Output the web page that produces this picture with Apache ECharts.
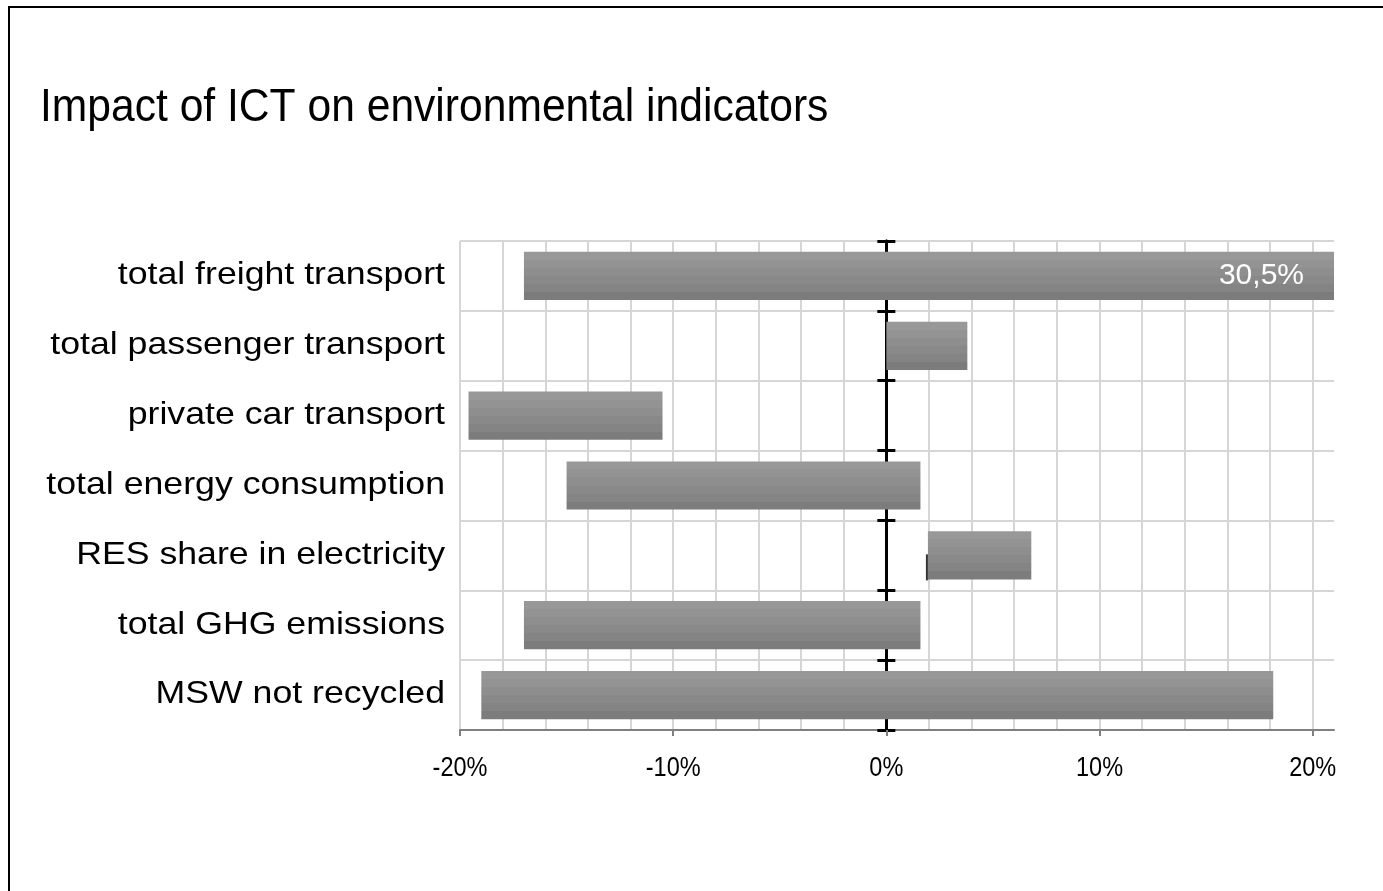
<!DOCTYPE html>
<html>
<head>
<meta charset="utf-8">
<script src="https://cdn.jsdelivr.net/npm/echarts@6/dist/echarts.min.js"></script>
<style>
  html, body { margin: 0; padding: 0; background: #fff; }
  #chart { width: 1383px; height: 891px; }
</style>
</head>
<body>
<div id="chart"></div>
<script>
// Indicator names, top to bottom
const categories = [
  'total freight transport',
  'total passenger transport',
  'private car transport',
  'total energy consumption',
  'RES share in electricity',
  'total GHG emissions',
  'MSW not recycled'
];
// Range of the estimated impact (percent): low end and high end of each bar
const lowValues  = [-17.0, 0.0, -19.6, -15.0, 1.95, -17.0, -19.0];
const highValues = [30.5, 3.8, -10.5, 1.6, 6.8, 1.6, 18.15];
// Labelled ticks on the percent axis
const xTickValues = [-20, -10, 0, 10, 20];
const axisMin = -20;
const axisMax = 21;

const fontStack = "'Liberation Sans', Arial, sans-serif";

// Stepped grey shading, light at the top of each bar to darker at the bottom
const bandColors = ['#989898', '#939393', '#8e8e8e', '#898989', '#848484', '#7c7c7c'];
const bandStops = [];
bandColors.forEach((c, i) => {
  bandStops.push({ offset: i / bandColors.length, color: c });
  bandStops.push({ offset: (i + 1) / bandColors.length, color: c });
});

const rangeData = categories.map((c, i) => [i, lowValues[i], highValues[i]]);
const categoryLabelData = categories.map((c, i) => [axisMin, i]);
const tickLabelData = xTickValues.map(v => [v, 0]);

function formatPct(v) {
  return v.toFixed(1).replace('.', ',') + '%';
}

function renderRange(params, api) {
  const cat = api.value(0);
  const lo = api.value(1);
  const hi = api.value(2);
  const start = api.coord([lo, cat]);
  const end = api.coord([hi, cat]);
  const h = api.size([0, 1])[1] * 0.69;
  const cs = params.coordSys;
  const rect = echarts.graphic.clipRectByRect(
    { x: start[0], y: start[1] - h / 2, width: end[0] - start[0], height: h },
    { x: cs.x, y: cs.y, width: cs.width, height: cs.height }
  );
  if (!rect) return;
  const children = [{
    type: 'rect',
    shape: rect,
    style: { fill: new echarts.graphic.LinearGradient(0, 0, 0, 1, bandStops) }
  }];
  // Values running past the axis end are written inside the clipped bar
  if (hi > axisMax) {
    children.push({
      type: 'text',
      x: rect.x + rect.width - 30,
      y: rect.y + rect.height / 2,
      style: {
        text: formatPct(hi),
        fill: '#ffffff',
        font: '30px ' + fontStack,
        align: 'right',
        verticalAlign: 'middle'
      }
    });
  }
  return { type: 'group', children: children };
}

// Indicator names, right-aligned left of the plot, in a slightly wide face
function renderCategoryLabel(params, api) {
  const i = api.value(1);
  const p = api.coord([api.value(0), i]);
  return {
    type: 'text',
    x: p[0] - 15,
    y: p[1],
    scaleX: 1.17,
    style: {
      text: categories[i],
      fill: '#000',
      font: '30.5px ' + fontStack,
      align: 'right',
      verticalAlign: 'middle'
    }
  };
}

// Percent labels under the axis, in a condensed face
function renderTickLabel(params, api) {
  const v = api.value(0);
  const p = api.coord([v, 0]);
  const cs = params.coordSys;
  return {
    type: 'text',
    x: p[0],
    y: cs.y + cs.height + 38,
    scaleX: 0.84,
    style: {
      text: v + '%',
      fill: '#000',
      font: '28px ' + fontStack,
      align: 'center',
      verticalAlign: 'middle'
    }
  };
}

const chart = echarts.init(document.getElementById('chart'), null, { renderer: 'canvas' });

const zeroAxisBase = {
  type: 'category',
  data: categories,
  inverse: true,
  position: 'left',
  axisLine: { show: true, onZero: true, onZeroAxisIndex: 0, lineStyle: { color: '#000', width: 3 } },
  axisLabel: { show: false },
  splitLine: { show: false }
};

chart.setOption({
  animation: false,
  backgroundColor: '#ffffff',
  graphic: [
    {
      type: 'rect',
      silent: true,
      shape: { x: 9, y: 7, width: 1500, height: 1000 },
      style: { fill: 'none', stroke: '#000', lineWidth: 2 }
    },
    {
      type: 'text',
      silent: true,
      x: 40,
      y: 85,
      scaleX: 0.926,
      style: {
        text: 'Impact of ICT on environmental indicators',
        fill: '#000',
        font: '46px ' + fontStack,
        align: 'left',
        verticalAlign: 'top'
      }
    }
  ],
  grid: { left: 460, right: 49, top: 241, bottom: 161, containLabel: false },
  xAxis: [
    {
      type: 'value',
      min: axisMin,
      max: axisMax,
      interval: 10,
      position: 'bottom',
      axisLine: { show: true, onZero: false, lineStyle: { color: '#808080', width: 2 } },
      axisTick: { show: true, customValues: xTickValues, length: 6, lineStyle: { color: '#808080', width: 2 } },
      axisLabel: { show: false },
      splitLine: { show: false }
    },
    {
      // carries the 2% vertical grid
      type: 'value',
      min: axisMin,
      max: axisMax,
      interval: 2,
      position: 'top',
      axisLine: { show: false },
      axisTick: { show: false },
      axisLabel: { show: false },
      splitLine: { show: true, showMaxLine: false, lineStyle: { color: '#d6d6d6', width: 2 } }
    }
  ],
  yAxis: [
    {
      type: 'category',
      data: categories,
      inverse: true,
      position: 'left',
      axisLine: { show: false, onZero: false },
      axisTick: { show: false },
      axisLabel: { show: false },
      splitLine: { show: true, lineStyle: { color: '#d6d6d6', width: 2 } }
    },
    Object.assign({}, zeroAxisBase, {
      axisTick: { show: true, inside: false, length: 9, lineStyle: { color: '#000', width: 3 } }
    }),
    Object.assign({}, zeroAxisBase, {
      axisTick: { show: true, inside: true, length: 9, lineStyle: { color: '#000', width: 3 } }
    })
  ],
  series: [
    {
      type: 'custom',
      xAxisIndex: 0,
      yAxisIndex: 0,
      renderItem: renderRange,
      encode: { x: [1, 2], y: 0 },
      data: rangeData,
      z: 1
    },
    {
      // thin dark edge at the low end of the RES share bar
      type: 'scatter',
      xAxisIndex: 0,
      yAxisIndex: 0,
      data: [[lowValues[4], 4]],
      symbol: 'rect',
      symbolSize: [2, 26],
      symbolOffset: [-1, 12],
      itemStyle: { color: '#000' },
      silent: true,
      z: 3
    },
    {
      type: 'custom',
      xAxisIndex: 0,
      yAxisIndex: 0,
      renderItem: renderCategoryLabel,
      encode: { x: 0, y: 1 },
      data: categoryLabelData,
      clip: false,
      silent: true
    },
    {
      type: 'custom',
      xAxisIndex: 0,
      yAxisIndex: 0,
      renderItem: renderTickLabel,
      encode: { x: 0, y: 1 },
      data: tickLabelData,
      clip: false,
      silent: true
    }
  ]
});
</script>
</body>
</html>
